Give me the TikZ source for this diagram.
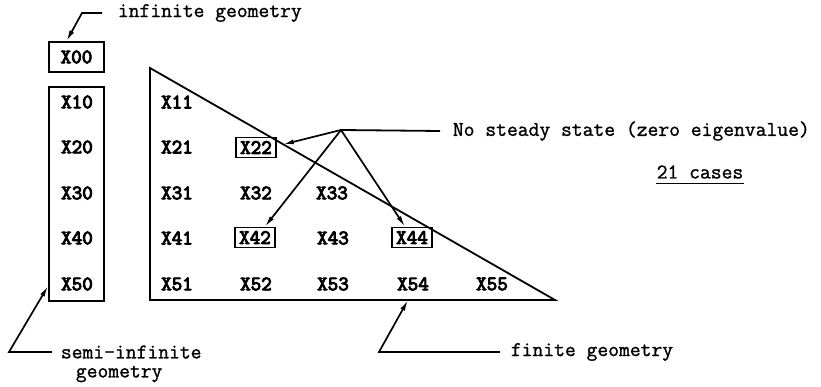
\documentclass[tikz,border=0pt]{standalone}
\usepackage{fontspec}
\usepackage{tikz}
\usetikzlibrary{arrows.meta}
\newfontfamily\ggcasefont{Latin Modern Mono}[FakeBold=4.5]
\newfontfamily\ggnotefont{Latin Modern Mono}[FakeBold=1.2]
\tikzset{
  ggcase/.style={font=\fontsize{20.5}{22}\selectfont\ggcasefont, inner sep=1pt},
  ggzero/.style={ggcase, draw, line width=1.8pt, inner sep=2pt, minimum width=40pt, minimum height=20pt},
  ggnote/.style={font=\fontsize{21}{24}\selectfont\ggnotefont, inner sep=0pt, anchor=west},
  ggarrow/.style={-{Latex[length=11pt,width=5pt]}, line width=1.7pt},
  ggline/.style={line width=1.8pt}
}
\begin{document}
\begin{tikzpicture}[x=1pt, y=-1pt, line width=1.8pt]
\useasboundingbox (0,0) rectangle (821,387);
% infinite and semi-infinite geometry
\node[ggcase, draw, line width=1.8pt, minimum width=55pt, minimum height=30pt] (x00) at (76.5,57) {X00};
\node[draw, line width=1.8pt, minimum width=55pt, minimum height=214pt, inner sep=0pt] (semi) at (76.5,194) {};
\node[ggcase] (x10) at (77,102) {X10};
\node[ggcase] (x20) at (77,147) {X20};
\node[ggcase] (x30) at (77,193) {X30};
\node[ggcase] (x40) at (77,238) {X40};
\node[ggcase] (x50) at (77,284) {X50};
% finite geometry
\coordinate (tA) at (150,68);
\coordinate (tB) at (150,300);
\coordinate (tC) at (555,300);
\draw[ggline, line join=miter] (tA) -- (tB) -- (tC) -- cycle;
\node[ggcase] (x11) at (177,102) {X11};
\node[ggcase] (x21) at (177,147) {X21};
\node[ggzero] (x22) at (256,147.5) {X22};
\node[ggcase] (x31) at (177,193) {X31};
\node[ggcase] (x32) at (256,193) {X32};
\node[ggcase] (x33) at (332,193) {X33};
\node[ggcase] (x41) at (177,238) {X41};
\node[ggzero] (x42) at (255,237.5) {X42};
\node[ggcase] (x43) at (333,238) {X43};
\node[ggzero] (x44) at (412,237.5) {X44};
\node[ggcase] (x51) at (177,284) {X51};
\node[ggcase] (x52) at (256,284) {X52};
\node[ggcase] (x53) at (333,284) {X53};
\node[ggcase] (x54) at (413,284) {X54};
\node[ggcase] (x55) at (492,284) {X55};
% leaders
\node[ggnote] (inf) at (117,13) {infinite geometry};
\coordinate (infbend) at (82,13);
\draw[ggarrow] ([xshift=-15pt]inf.west) -- (infbend) -- ([xshift=-10pt]x00.north);
\node[ggnote] (nss) at (452,131) {No steady state (zero eigenvalue)};
\coordinate (hub) at (341,130);
\draw[ggline] ([xshift=-12pt]nss.west) -- (hub);
\draw[ggarrow] (hub) -- ([xshift=6pt,yshift=3pt]x22.east);
\draw[ggarrow] (hub) -- ([xshift=10pt]x42.north);
\draw[ggarrow] (hub) -- ([xshift=-7pt]x44.north);
\node[ggnote, anchor=center] (cases) at (700,172) {21 cases};
\draw[line width=1pt] ([yshift=-4pt]cases.south west) -- ([yshift=-4pt]cases.south east);
\node[ggnote] (semilab) at (60,352) {semi-infinite};
\node[ggnote] (semilab2) at (75,374) {geometry};
\coordinate (semibend) at (9,352);
\draw[ggarrow] ([xshift=-8pt]semilab.west) -- (semibend) -- ([yshift=16pt]semi.south west);
\node[ggnote] (finlab) at (510,352) {finite geometry};
\coordinate (finbend) at (379,352);
\coordinate (finend) at (408,300);
\draw[ggarrow] ([xshift=-10pt]finlab.west) -- (finbend) -- (finend);
\end{tikzpicture}
\end{document}
